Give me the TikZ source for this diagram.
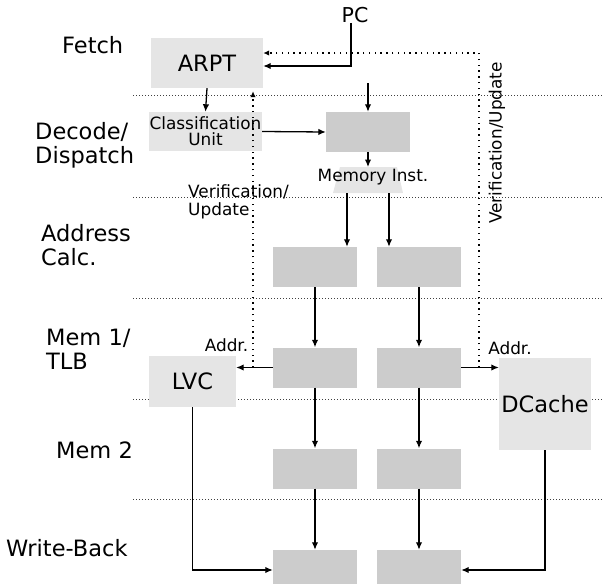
\documentclass[tikz,border=0pt]{standalone}
\usepackage{fontspec}
\setmainfont{DejaVu Sans}
\usetikzlibrary{arrows.meta}
\begin{document}
\begin{tikzpicture}[x=1pt,y=-1pt,
  big/.style={font=\fontsize{22.5}{24}\selectfont, inner sep=0pt},
  small/.style={font=\fontsize{16.9}{18}\selectfont, inner sep=0pt},
  lbox/.style={fill=black!10, draw=none, inner sep=0pt},
  dbox/.style={fill=black!20, draw=none, inner sep=0pt, minimum width=84pt, minimum height=40pt},
  arr/.style={line width=1.3pt, -{Latex[length=7.5pt,width=6.5pt]}},
  fb/.style={line width=1.3pt, dash pattern=on 1.3pt off 4.5pt, -{Latex[length=6pt,width=5.5pt]}},
  sep/.style={line width=0.8pt, black!75, dash pattern=on 0.8pt off 2.2pt}
]
\useasboundingbox (0,0) rectangle (603,584);
% stage separators
\foreach \yy in {95,197,298,399,499} \draw[sep] (133,\yy) -- (603,\yy);

% stage labels
\node[big, anchor=west] (lfetch) at (62,45) {Fetch};
\node[big, anchor=west, align=left] (ldec) at (35,145) {Decode/\\Dispatch};
\node[big, anchor=west, align=left] (laddr) at (41,245) {Address\\Calc.};
\node[big, anchor=west, align=left] (lmem1) at (46,349) {Mem 1/\\TLB};
\node[big, anchor=west] (lmem2) at (56,450) {Mem 2};
\node[big, anchor=west] (lwb) at (6,548) {Write-Back};

% boxes
\node[lbox, big, minimum width=112pt, minimum height=50pt] (arpt) at (207,63) {ARPT};
\node[lbox, small, minimum width=113pt, minimum height=39pt, align=center,
      font=\fontsize{16.9}{16}\selectfont] (cls) at (205.5,131.5) {Classification\\Unit};
\node[dbox] (disp) at (368,132) {};
% memory-instruction trapezoid
\fill[black!10] (340,167) -- (397,167) -- (403,193) -- (333,193) -- cycle;
\coordinate (trapT) at (368,167);
\coordinate (trapBL) at (347,193);
\coordinate (trapBR) at (389,193);
\node[small] (mitext) at (373,177) {Memory Inst.};

\node[dbox] (acl) at (315,267) {};
\node[dbox] (acr) at (419,267) {};
\node[dbox] (m1l) at (315,367.5) {};
\node[dbox] (m1r) at (419,367.5) {};
\node[dbox] (m2l) at (315,468.5) {};
\node[dbox] (m2r) at (419,468.5) {};
\node[dbox] (wbl) at (315,570) {};
\node[dbox] (wbr) at (419,570) {};

\node[lbox, big, minimum width=87pt, minimum height=51pt] (lvc) at (192.5,381.5) {LVC};
\node[lbox, big, minimum width=92pt, minimum height=92pt] (dc) at (545,404) {DCache};

% PC
\node[big, font=\fontsize{20.5}{22}\selectfont] (pc) at (355,15) {PC};
\draw[arr] ([xshift=-4pt]pc.south) |- ([yshift=-3pt]arpt.east);

% fetch -> decode
\draw[arr] (arpt.south) -- (cls.north);
\coordinate (dtop) at (368,83);
\draw[arr] (dtop) -- (disp.north);
\draw[arr] (cls.east) -- (disp.west);
\draw[arr] (disp.south) -- (trapT);

% trapezoid -> address calc
\draw[arr] (trapBL) -- (trapBL |- acl.north);
\draw[arr] (trapBR) -- (trapBR |- acr.north);

% pipeline columns
\draw[arr] (acl.south) -- (m1l.north);
\draw[arr] (acr.south) -- (m1r.north);
\draw[arr] (m1l.south) -- (m2l.north);
\draw[arr] (m1r.south) -- (m2r.north);
\draw[arr] (m2l.south) -- (wbl.north);
\draw[arr] (m2r.south) -- (wbr.north);

% address to caches
\draw[arr] (m1l.west) -- (lvc.east |- m1l.west);
\draw[arr] (m1r.east) -- (dc.west |- m1r.east);
\node[small] (addrl) at (226.5,345) {Addr.};
\node[small] (addrr) at (510,348) {Addr.};

% caches to write-back
\draw[arr] (lvc.south) |- (wbl.west);
\draw[arr] (dc.south) |- (wbr.east);

% verification / update feedback
\coordinate (fbL) at (253,367.5);
\draw[fb, shorten >=3pt] (fbL) -- (fbL |- arpt.south);
\node[small, anchor=west, align=left] (vul) at (188,202) {Verification/\\Update};
\coordinate (fbR) at (479,367.5);
\draw[fb] (fbR) |- ([yshift=10pt]arpt.east);
\node[small, rotate=90] (vur) at (497,143) {Verification/Update};
\end{tikzpicture}
\end{document}
